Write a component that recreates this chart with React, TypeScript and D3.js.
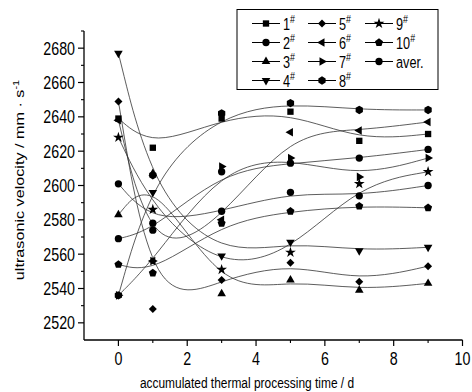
import * as d3 from 'd3';
import { type FC, type ReactNode } from 'react';

// time (d) at which each sample was measured
const days = [0, 1, 3, 5, 7, 9];

// ultrasonic velocity (m/s) per sample
const s1 = [2639, 2622, 2639, 2643, 2626, 2630];
const s2 = [2569, 2574, 2608, 2613, 2616, 2621];
const s3 = [2583, 2607, 2537, 2545, 2539, 2543];
const s4 = [2677, 2596, 2559, 2567, 2562, 2564];
const s5 = [2649, 2528, 2545, 2555, 2544, 2553];
const s6 = [2638, 2556, 2580, 2631, 2632, 2637];
const s7 = [2536, 2556, 2611, 2616, 2605, 2616];
const s8 = [2536, 2606, 2642, 2648, 2644, 2644];
const s9 = [2628, 2586, 2551, 2561, 2601, 2608];
const s10 = [2554, 2549, 2578, 2585, 2588, 2587];
const aver = [2601, 2578, 2585, 2596, 2594, 2600];

const seriesNames = ['1', '2', '3', '4', '5', '6', '7', '8', '9', '10', 'aver.'];
const seriesValues = [s1, s2, s3, s4, s5, s6, s7, s8, s9, s10, aver];
const markerKinds = [
  'square', 'circle', 'up', 'down', 'diamond', 'left',
  'right', 'hexagon', 'star', 'pentagon', 'circle',
];

const yTicks = [2520, 2540, 2560, 2580, 2600, 2620, 2640, 2660, 2680];
const xTicks = [0, 2, 4, 6, 8, 10];

const W = 472;
const H = 392;
const FONT = "'Liberation Sans', Arial, sans-serif";
const SQUEEZE = 0.77; // the original figure is squeezed horizontally

const x = d3.scaleLinear().domain([-1, 10]).range([84, 462.5]);
const y = d3.scaleLinear().domain([2510, 2690]).range([340, 31]);

const polygon = (n: number, r: number, rot: number) => {
  const p = d3.path();
  for (let i = 0; i < n; i++) {
    const a = rot + (i * 2 * Math.PI) / n;
    const px = r * Math.cos(a);
    const py = r * Math.sin(a);
    if (i === 0) p.moveTo(px, py);
    else p.lineTo(px, py);
  }
  p.closePath();
  return p.toString();
};

const markerPath = (kind: string) => {
  const tri = d3.symbol(d3.symbolTriangle, 32)() || '';
  switch (kind) {
    case 'square':
      return { d: d3.symbol(d3.symbolSquare, 40)() || '', rot: 0 };
    case 'circle':
      return { d: d3.symbol(d3.symbolCircle, 42)() || '', rot: 0 };
    case 'up':
      return { d: tri, rot: 0 };
    case 'down':
      return { d: tri, rot: 180 };
    case 'left':
      return { d: tri, rot: -90 };
    case 'right':
      return { d: tri, rot: 90 };
    case 'diamond':
      return { d: d3.symbol(d3.symbolSquare, 32)() || '', rot: 45 };
    case 'star':
      return { d: d3.symbol(d3.symbolStar, 36)() || '', rot: 0 };
    case 'hexagon':
      return { d: polygon(6, 4.2, -Math.PI / 2), rot: 0 };
    default:
      return { d: polygon(5, 4.2, -Math.PI / 2), rot: 0 };
  }
};

const Marker: FC<{ kind: string; cx: number; cy: number }> = ({ kind, cx, cy }) => {
  const m = markerPath(kind);
  return (
    <path
      d={m.d}
      transform={`translate(${cx},${cy}) rotate(${m.rot})`}
      fill="#000"
    />
  );
};

// horizontal text squeezed like the original
const NText: FC<{
  tx: number;
  ty: number;
  size: number;
  anchor?: 'start' | 'middle' | 'end';
  children: ReactNode;
}> = ({ tx, ty, size, anchor = 'start', children }) => (
  <text
    transform={`translate(${tx},${ty}) scale(${SQUEEZE},1)`}
    fontSize={size}
    textAnchor={anchor}
    fill="#000"
  >
    {children}
  </text>
);

const App: FC = () => {
  const line = d3
    .line<number>()
    .x((_, i) => x(days[i]))
    .y((d) => y(d))
    .curve(d3.curveBasis);

  const yMinor = d3.range(2530, 2691, 20);
  const xMinor = d3.range(1, 10, 2);

  const legendX = [252, 308, 365];
  const legendY = (r: number) => 23.5 + r * 19;

  return (
    <svg
      width={W}
      height={H}
      style={{ position: 'absolute', left: 0, top: 0, background: '#fff' }}
      fontFamily={FONT}
    >
      <rect width={W} height={H} fill="#fff" />

      {/* curves */}
      {seriesValues.map((vals, i) => (
        <path
          key={'l' + i}
          d={line(vals) || ''}
          fill="none"
          stroke="#333"
          strokeWidth={0.8}
        />
      ))}

      {/* markers */}
      {seriesValues.map((vals, i) =>
        vals.map((v, j) => (
          <Marker key={`m${i}-${j}`} kind={markerKinds[i]} cx={x(days[j])} cy={y(v)} />
        )),
      )}

      {/* axes */}
      <line x1={x(-1)} x2={x(-1)} y1={y(2690)} y2={y(2510)} stroke="#000" strokeWidth={1.3} />
      <line x1={x(-1)} x2={x(10)} y1={y(2510)} y2={y(2510)} stroke="#000" strokeWidth={1.3} />

      {yTicks.map((t) => (
        <g key={'yt' + t}>
          <line x1={x(-1) - 6} x2={x(-1)} y1={y(t)} y2={y(t)} stroke="#000" strokeWidth={1.2} />
          <NText tx={x(-1) - 9} ty={y(t) + 6.6} size={18.5} anchor="end">
            {t}
          </NText>
        </g>
      ))}
      {yMinor.map((t) => (
        <line key={'ym' + t} x1={x(-1) - 3} x2={x(-1)} y1={y(t)} y2={y(t)} stroke="#000" strokeWidth={1.1} />
      ))}

      {xTicks.map((t) => (
        <g key={'xt' + t}>
          <line x1={x(t)} x2={x(t)} y1={y(2510)} y2={y(2510) + 6} stroke="#000" strokeWidth={1.2} />
          <NText tx={x(t)} ty={365} size={18.5} anchor="middle">
            {t}
          </NText>
        </g>
      ))}
      {xMinor.map((t) => (
        <line key={'xm' + t} x1={x(t)} x2={x(t)} y1={y(2510)} y2={y(2510) + 3} stroke="#000" strokeWidth={1.1} />
      ))}

      {/* axis titles */}
      <NText tx={247} ty={388} size={15.5} anchor="middle">
        accumulated thermal processing time / d
      </NText>
      <text
        transform={`translate(24,180) rotate(-90) scale(1,${SQUEEZE})`}
        fontSize={16.2}
        textAnchor="middle"
        fill="#000"
      >
        ultrasonic velocity / mm · s
        <tspan dy={-6} fontSize={11}>-1</tspan>
      </text>

      {/* legend */}
      <rect x={237} y={9.5} width={201} height={80} fill="#fff" stroke="#000" strokeWidth={1} />
      {seriesNames.map((name, i) => {
        const col = Math.floor(i / 4);
        const row = i % 4;
        const lx = legendX[col];
        const ly = legendY(row);
        return (
          <g key={'lg' + i}>
            <line x1={lx} x2={lx + 28} y1={ly} y2={ly} stroke="#000" strokeWidth={1} />
            <Marker kind={markerKinds[i]} cx={lx + 14} cy={ly} />
            <NText tx={lx + 31} ty={ly + 6} size={16.5}>
              {name}
              {name !== 'aver.' && (
                <tspan dy={-7} fontSize={11.5}>#</tspan>
              )}
            </NText>
          </g>
        );
      })}
    </svg>
  );
};

export default App;
